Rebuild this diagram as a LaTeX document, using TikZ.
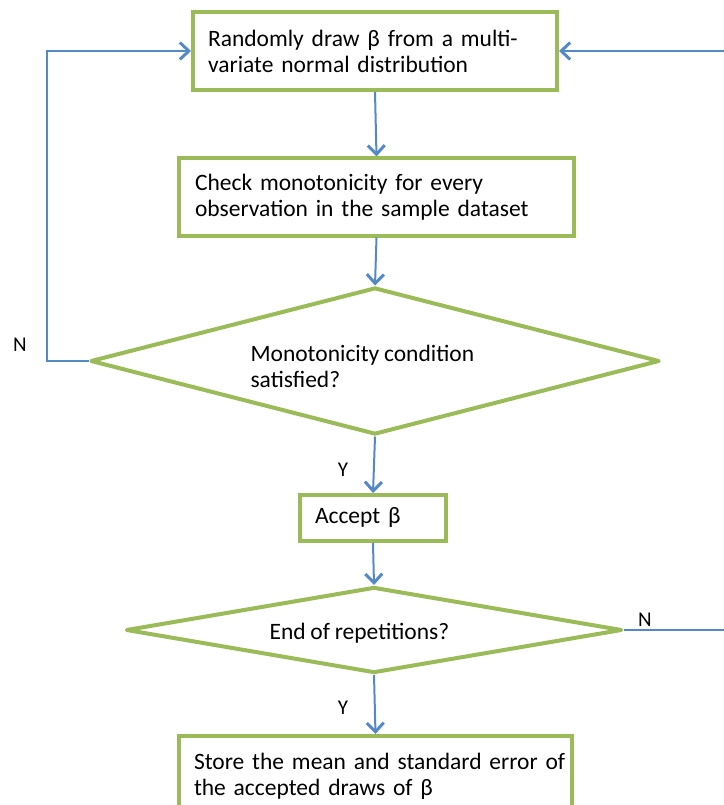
\documentclass[tikz,border=0pt]{standalone}
\usepackage{fontspec}
\setmainfont[WordSpace=0.9]{Carlito}
\usetikzlibrary{arrows.meta,shapes.geometric}
\definecolor{boxgreen}{RGB}{155,187,89}
\definecolor{arrowblue}{RGB}{84,137,200}
\begin{document}
\begin{tikzpicture}[x=1pt,y=-1pt,
  stepbox/.style={draw=boxgreen, line width=4pt, rectangle, fill=white,
    font=\fontsize{23.5}{26}\selectfont, align=left, inner xsep=15pt, anchor=center},
  decision/.style={draw=boxgreen, line width=4pt, diamond, fill=white,
    inner sep=0pt, line join=round},
  dtext/.style={font=\fontsize{23.5}{26}\selectfont, align=left, anchor=west},
  conn/.style={draw=arrowblue, line width=2pt,
    -{Straight Barb[length=9pt,width=17pt,line width=3pt]}},
  lbl/.style={font=\fontsize{21}{24}\selectfont}
]
\useasboundingbox (0,0) rectangle (723,805);

\node[stepbox, minimum width=364pt, minimum height=78pt, text width=334pt] (b1) at (375,51)
  {Randomly draw β from a multi-\\variate normal distribution};
\node[stepbox, minimum width=395pt, minimum height=77pt, text width=363pt] (b2) at (376.5,197)
  {Check monotonicity for every\\observation in the sample dataset};
\node[decision, minimum width=569pt, minimum height=147pt] (d1) at (375,361) {};
\node[dtext] (d1t) at (247,366) {Monotonicity condition\\satisfied?};
\node[stepbox, minimum width=146pt, minimum height=46pt, text width=116pt] (acc) at (373,518)
  {Accept β};
\node[decision, minimum width=496pt, minimum height=86pt] (d2) at (374,630) {};
\node[dtext] (d2t) at (266,633) {End of repetitions?};
\node[stepbox, minimum width=393pt, minimum height=80pt, text width=363pt] (b3) at (375.5,776)
  {\mbox{Store the mean and standard error of}\\the accepted draws of β};

\coordinate (leftx) at (47,361);
\coordinate (rightx) at (727,630);

\draw[conn] (b1.south) -- (b2.north);
\draw[conn] (b2.south) -- (d1.north);
\draw[conn] (d1.south) -- (acc.north);
\draw[conn] (acc.south) -- (d2.north);
\draw[conn] (d2.south) -- (b3.north);
\draw[conn] (d1.west) -- (leftx) |- (b1.west);
\draw[conn] (d2.east) -- (rightx) |- (b1.east);

\node[lbl] (n1) at (20,345) {N};
\node[lbl] (n2) at (645,620) {N};
\node[lbl] (y1) at (343,470) {Y};
\node[lbl] (y2) at (343,708) {Y};
\end{tikzpicture}
\end{document}
